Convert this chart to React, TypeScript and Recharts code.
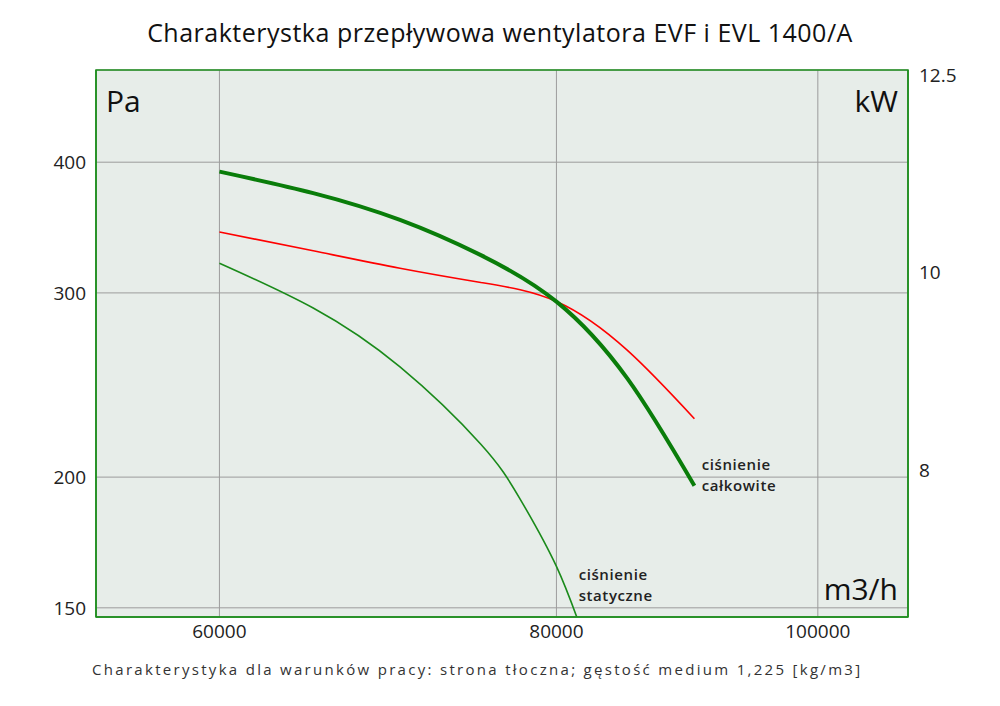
import { CartesianGrid, Line, LineChart, ReferenceArea, ReferenceDot, XAxis, YAxis } from "recharts";

const FONT = '"Open Sans", "DejaVu Sans", sans-serif';
const GREEN = "#1f8f1f";

// wydajność [m3/h]
const flow = [60000, 65000, 70000, 75000, 80000, 85000, 90000];
// ciśnienie całkowite [Pa]
const totalPressure = [391.8, 373.7, 352.3, 326.0, 294.3, 248.4, 196.2];
// moc [kW]
const powerKw = [10.47, 10.25, 10.05, 9.89, 9.68, 9.16, 8.48];

const flowStatic = [60000, 65000, 70000, 75000, 77500, 80000, 82000];
// ciśnienie statyczne [Pa]
const staticPressure = [320.3, 290.2, 254.9, 215.0, 191.2, 164.3, 139.4];

const flowTicks = [60000, 80000, 100000];
const paTicks = [150, 200, 300, 400];
const kwTicks = [8, 10, 12.5];

const totalData = flow.map((q, i) => ({ q, v: totalPressure[i] }));
const powerData = flow.map((q, i) => ({ q, v: powerKw[i] }));
const staticData = flowStatic.map((q, i) => ({ q, v: staticPressure[i] }));

const tickStyle = { fill: "#222", fontSize: 19, fontFamily: FONT };

function Note(props: any) {
    const { x, y } = props.viewBox;
    return (
        <text x={x} y={y} fontFamily={FONT} fontSize={15} fontWeight={600} fill="#222" letterSpacing={0.6}>
            {props.lines.map((line: string, i: number) => (
                <tspan key={i} x={x} dy={i === 0 ? "0.35em" : 21}>
                    {line}
                </tspan>
            ))}
        </text>
    );
}

function UnitLabels(props: any) {
    const { x, y, width, height } = props.viewBox;
    const style = { fontFamily: FONT, fontSize: 30, fill: "#111" };
    return (
        <g>
            <text x={x + 10} y={y + 42} {...style}>Pa</text>
            <text x={x + width - 10} y={y + 42} textAnchor="end" {...style}>kW</text>
            <text x={x + width - 10} y={y + height - 17} textAnchor="end" {...style}>m3/h</text>
        </g>
    );
}

export default function App() {
    return (
        <div style={{ position: "absolute", left: 0, top: 0, width: 1000, height: 706, background: "#fff", fontFamily: FONT }}>
            <div
                style={{
                    position: "absolute",
                    top: 15,
                    left: 0,
                    width: 1000,
                    textAlign: "center",
                    fontSize: 25,
                    letterSpacing: 0.5,
                    color: "#111",
                }}
            >
                Charakterystka przepływowa wentylatora EVF i EVL 1400/A
            </div>
            <LineChart width={1000} height={706} margin={{ top: 70, right: 32, bottom: 59, left: 36 }}>
                <CartesianGrid xAxisId="q" yAxisId="pa" stroke="#9c9c9c" fill="#e7ede9" />
                <XAxis
                    xAxisId="q"
                    dataKey="q"
                    type="number"
                    scale="log"
                    domain={[54000, 108000]}
                    ticks={flowTicks}
                    allowDataOverflow
                    height={30}
                    tickLine={false}
                    axisLine={{ stroke: GREEN, strokeWidth: 1.5 }}
                    tick={tickStyle}
                />
                <YAxis
                    yAxisId="pa"
                    type="number"
                    scale="log"
                    domain={[147, 490]}
                    ticks={paTicks}
                    allowDataOverflow
                    width={60}
                    tickLine={false}
                    tickMargin={4}
                    axisLine={{ stroke: GREEN, strokeWidth: 1.5 }}
                    tick={tickStyle}
                />
                <YAxis
                    yAxisId="kw"
                    orientation="right"
                    type="number"
                    scale="log"
                    domain={[6.78, 12.57]}
                    ticks={kwTicks}
                    allowDataOverflow
                    width={60}
                    tickLine={false}
                    tickMargin={5}
                    axisLine={{ stroke: GREEN, strokeWidth: 1.5 }}
                    tick={tickStyle}
                />
                <ReferenceArea
                    xAxisId="q"
                    yAxisId="pa"
                    x1={54000}
                    x2={108000}
                    y1={147}
                    y2={490}
                    ifOverflow="visible"
                    fill="none"
                    stroke={GREEN}
                    strokeWidth={1.5}
                    label={{ content: (p: any) => <UnitLabels {...p} /> }}
                />
                <Line
                    xAxisId="q"
                    yAxisId="pa"
                    data={staticData}
                    dataKey="v"
                    type="natural"
                    stroke="#1a8a1a"
                    strokeWidth={1.6}
                    dot={false}
                    isAnimationActive={false}
                />
                <Line
                    xAxisId="q"
                    yAxisId="kw"
                    data={powerData}
                    dataKey="v"
                    type="natural"
                    stroke="#ff0000"
                    strokeWidth={1.6}
                    dot={false}
                    isAnimationActive={false}
                />
                <Line
                    xAxisId="q"
                    yAxisId="pa"
                    data={totalData}
                    dataKey="v"
                    type="natural"
                    stroke="#0a7d0a"
                    strokeWidth={4}
                    dot={false}
                    isAnimationActive={false}
                />
                <ReferenceDot
                    xAxisId="q"
                    yAxisId="pa"
                    x={90640}
                    y={205}
                    r={1}
                    fill="none"
                    stroke="none"
                    label={{ content: (p: any) => <Note {...p} lines={["ciśnienie", "całkowite"]} /> }}
                />
                <ReferenceDot
                    xAxisId="q"
                    yAxisId="pa"
                    x={81600}
                    y={161}
                    r={1}
                    fill="none"
                    stroke="none"
                    label={{ content: (p: any) => <Note {...p} lines={["ciśnienie", "statyczne"]} /> }}
                />
            </LineChart>
            <div
                style={{
                    position: "absolute",
                    top: 659,
                    left: 92,
                    fontSize: 15,
                    letterSpacing: 2.3,
                    color: "#333",
                    whiteSpace: "nowrap",
                }}
            >
                Charakterystyka dla warunków pracy: strona tłoczna; gęstość medium 1,225 [kg/m3]
            </div>
        </div>
    );
}
